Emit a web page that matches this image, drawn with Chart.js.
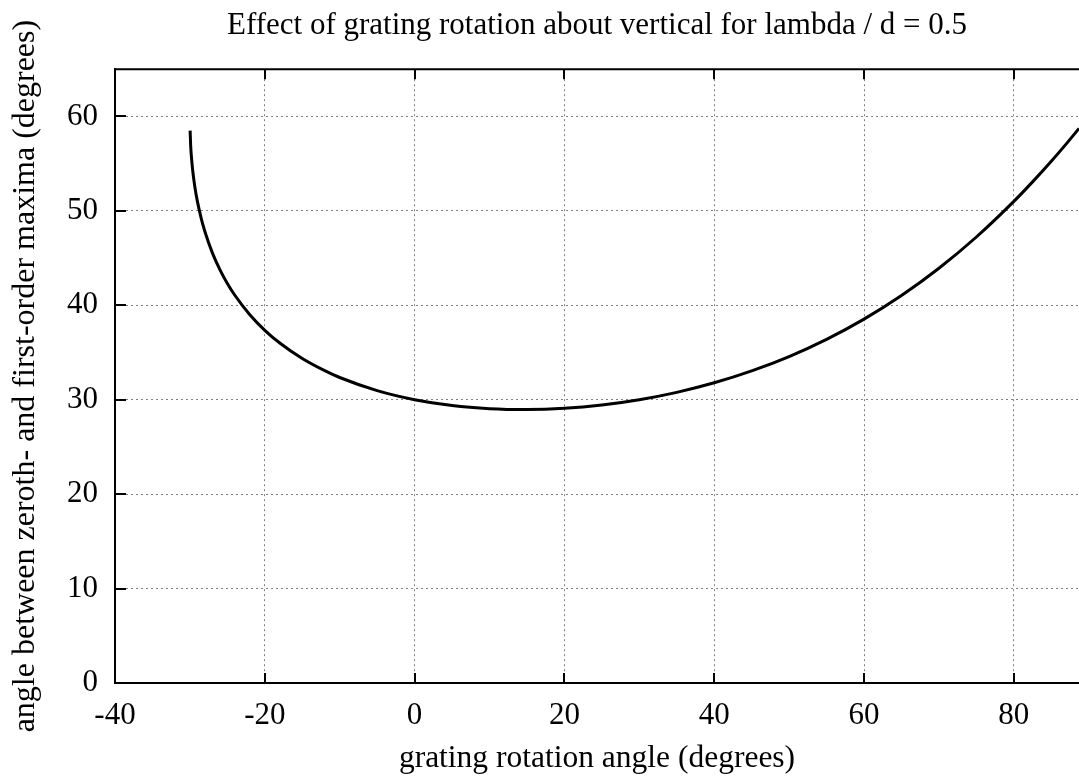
<!DOCTYPE html>
<html><head><meta charset="utf-8">
<script src="https://cdn.jsdelivr.net/npm/chart.js@4/dist/chart.umd.min.js"></script>
<style>html,body{margin:0;padding:0;background:#fff;overflow:hidden}#wrap{width:1079px;height:780px;position:relative}</style>
</head><body><div id="wrap"><canvas id="c" width="1079" height="780"></canvas></div>
<script>
const chartTitle = "Effect of grating rotation about vertical for lambda / d = 0.5";
const xAxisTitle = "grating rotation angle (degrees)";
const yAxisTitle = "angle between zeroth- and first-order maxima (degrees)";

// grating rotation angle (degrees)
const rotationAngle = [-29.97, -29.9, -29.8, -29.6, -29.3, -29, -28.5, -28, -27, -26, -25, -24, -22, -20, -18, -15, -12, -10, -5, 0, 5, 10, 15, 20, 25, 30, 35, 40, 45, 50, 55, 60, 65, 70, 75, 80, 82.5, 85, 87, 88.7];
// angle between zeroth- and first-order maxima (degrees)
const maximaAngle = [58.5, 56.95, 55.74, 54.09, 52.34, 51.0, 49.23, 47.81, 45.55, 43.78, 42.31, 41.06, 39.0, 37.35, 36.0, 34.36, 33.07, 32.35, 30.96, 30.0, 29.38, 29.05, 28.96, 29.09, 29.44, 30.0, 30.78, 31.79, 33.05, 34.57, 36.39, 38.53, 41.03, 43.92, 47.23, 51.0, 53.07, 55.25, 57.09, 58.72];

const xTickValues = [-40, -20, 0, 20, 40, 60, 80];
const yTickValues = [0, 10, 20, 30, 40, 50, 60];
const xRange = [-40, 88.7];
const yRange = [0, 65];

const FONT = "'Liberation Serif', 'Times New Roman', 'DejaVu Serif', serif";

const points = rotationAngle.map((v, i) => ({x: v, y: maximaAngle[i]}));

const innerTicks = {
  id: 'innerTicks',
  afterDraw(chart) {
    const {ctx, chartArea: a, scales: {x, y}} = chart;
    ctx.save();
    ctx.strokeStyle = '#000';
    ctx.setLineDash([]);
    ctx.lineWidth = 2;
    ctx.beginPath();
    ctx.moveTo(a.left - 1, a.top);
    ctx.lineTo(a.right + 1, a.top);
    ctx.stroke();
    ctx.lineWidth = 2;
    ctx.beginPath();
    for (const t of x.ticks) {
      const px = Math.round(x.getPixelForValue(t.value));
      ctx.moveTo(px, a.bottom);
      ctx.lineTo(px, a.bottom - 10);
      ctx.moveTo(px, a.top);
      ctx.lineTo(px, a.top + 10);
    }
    for (const t of y.ticks) {
      const py = Math.round(y.getPixelForValue(t.value));
      ctx.moveTo(a.left, py);
      ctx.lineTo(a.left + 11, py);
    }
    ctx.stroke();
    ctx.restore();
  }
};

new Chart(document.getElementById('c'), {
  type: 'line',
  data: {
    datasets: [{
      data: points,
      borderColor: '#000',
      borderWidth: 3,
      pointRadius: 0,
      fill: false,
      cubicInterpolationMode: 'monotone'
    }]
  },
  options: {
    responsive: false,
    animation: false,
    devicePixelRatio: 1,
    layout: {padding: 0},
    plugins: {
      legend: {display: false},
      tooltip: {enabled: false},
      title: {
        display: true,
        text: chartTitle,
        fullSize: false,
        color: '#000',
        font: {family: FONT, size: 31, weight: 'normal'},
        padding: {top: 7, bottom: 25}
      }
    },
    scales: {
      x: {
        type: 'linear',
        min: xRange[0],
        max: xRange[1],
        afterBuildTicks: s => { s.ticks = xTickValues.map(v => ({value: v})); },
        afterFit: s => { s.height = 97; },
        ticks: {color: '#000', font: {family: FONT, size: 31}, padding: 14, maxRotation: 0},
        grid: {color: '#808080', lineWidth: 1, drawTicks: false},
        border: {display: true, color: '#000', width: 2, dash: [2, 3]},
        title: {display: true, text: xAxisTitle, color: '#000', font: {family: FONT, size: 31.5}, padding: {top: 0, bottom: 2}}
      },
      y: {
        type: 'linear',
        min: yRange[0],
        max: yRange[1],
        afterBuildTicks: s => { s.ticks = yTickValues.map(v => ({value: v})); },
        afterFit: s => { s.width = 115; },
        ticks: {color: '#000', font: {family: FONT, size: 31}, padding: 17},
        grid: {color: '#808080', lineWidth: 1, drawTicks: false},
        border: {display: true, color: '#000', width: 2, dash: [2, 3]},
        title: {display: true, text: yAxisTitle, color: '#000', font: {family: FONT, size: 32}, padding: {top: 6, bottom: 0}}
      }
    }
  },
  plugins: [innerTicks]
});
</script>
</body></html>
